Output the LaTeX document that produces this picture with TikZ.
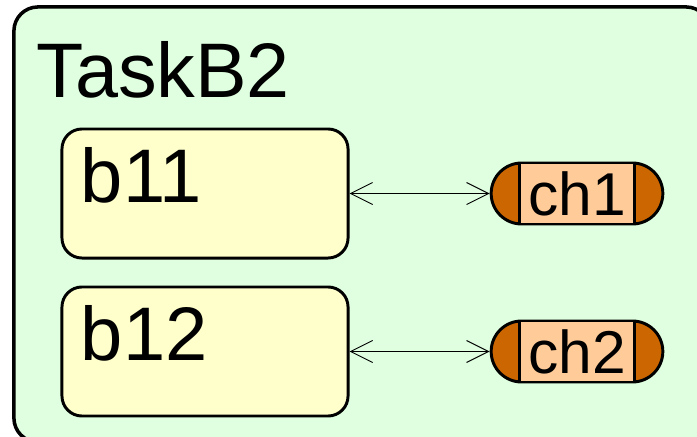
\documentclass[tikz,border=0pt]{standalone}
\usepackage{fontspec}
\setmainfont{Liberation Sans}
\usepackage{tikz}
\usetikzlibrary{arrows.meta,positioning,shapes.misc}
\definecolor{taskfill}{RGB}{224,255,224}
\definecolor{blockfill}{RGB}{255,255,204}
\definecolor{portcap}{RGB}{204,102,0}
\definecolor{portfill}{RGB}{255,204,153}

\begin{document}
\begin{tikzpicture}[
    x=0.025cm, y=-0.025cm,
    task/.style={rectangle, draw, line width=2.5pt, fill=taskfill, rounded corners=0.6cm,
        minimum width=17.4cm, minimum height=10.875cm},
    title/.style={anchor=base west, inner sep=0pt, font=\fontsize{55}{60}\selectfont},
    block/.style={rectangle, draw, line width=2.1pt, fill=blockfill, rounded corners=0.5cm,
        minimum width=7.15cm, minimum height=3.225cm, inner xsep=0.475cm, inner ysep=0pt,
        text width=6.2cm, align=left, text height=1.375cm, text depth=0.95cm,
        font=\fontsize{54}{60}\selectfont},
    port/.style={rounded rectangle, draw, line width=2.1pt, fill=portcap,
        minimum width=4.525cm, minimum height=1.525cm},
    portname/.style={rectangle, draw, line width=2.1pt, fill=portfill, inner sep=0pt,
        minimum width=2.875cm, minimum height=1.525cm, font=\fontsize{43}{46}\selectfont},
    link/.style={{Straight Barb[length=0.55cm,width=0.55cm]}-{Straight Barb[length=0.55cm,width=0.55cm]}, line width=0.7pt}
]
    \useasboundingbox (0,0) rectangle (697,436);
    \clip (0,0) rectangle (697,436);

    % task container and its title
    \node[task] (taskb2) at (362,224.5) {};
    \node[title] (title) at (36,97) {TaskB2};

    % blocks
    \node[block] (b11) at (205,193.5) {b11};
    \node[block, below=0.65cm of b11] (b12) {b12};

    % channels
    \node[port] (ch1) at (577,193.5) {};
    \node[portname] (ch1name) at (ch1) {ch1};
    \node[port] (ch2) at (ch1 |- b12) {};
    \node[portname] (ch2name) at (ch2) {ch2};

    \draw[link] (b11) -- (ch1);
    \draw[link] (b12) -- (ch2);
\end{tikzpicture}
\end{document}
